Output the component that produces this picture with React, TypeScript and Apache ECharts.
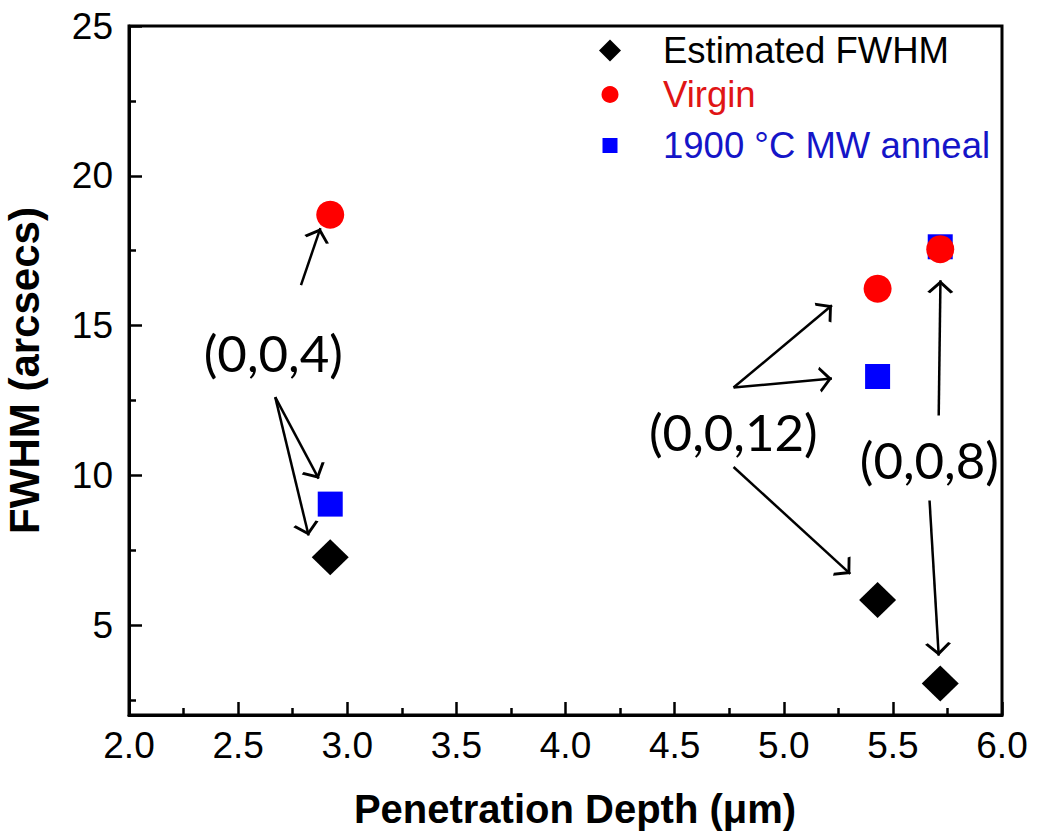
import React, { useEffect, useRef } from "react";
import * as echarts from "echarts";

// ---- data ----
const seriesNames = ["Estimated FWHM", "Virgin", "1900 °C MW anneal"];
const depth = [2.922, 5.43, 5.717];
const estimatedFWHM = [7.27, 5.84, 3.05];
const virginFWHM = [18.7, 16.23, 17.55];
const annealFWHM = [9.04, 13.3, 17.63];

const xTickLabels = ["2.0", "2.5", "3.0", "3.5", "4.0", "4.5", "5.0", "5.5", "6.0"];
const yMajorTicks = [5, 10, 15, 20, 25];
const yMinorTicks = [2.5, 7.5, 12.5, 17.5, 22.5];

const annotationLabels = ["(0,0,4)", "(0,0,12)", "(0,0,8)"];
const annotationPos = [
  [2.661, 14.11],
  [4.769, 11.47],
  [5.667, 10.53],
];
const arrowCoords = [
  [[2.788, 16.35], [2.877, 18.25]],
  [[2.67, 12.61], [2.869, 9.89]],
  [[2.67, 12.61], [2.823, 7.99]],
  [[4.77, 12.93], [5.221, 15.68]],
  [[4.77, 12.93], [5.221, 13.23]],
  [[4.77, 10.28], [5.305, 6.71]],
  [[5.71, 12.0], [5.718, 16.51]],
  [[5.668, 9.16], [5.71, 3.98]],
];

const ARIAL = "'Liberation Sans', Arial, Helvetica, sans-serif";
const chevron =
  "path://M0,-14 M0,0 L8,12.5 L6.3,14 L0,4.2 L-6.3,14 L-8,12.5 Z";

export default function App() {
  const ref = useRef<HTMLDivElement>(null);

  useEffect(() => {
    document.body.style.margin = "0";
    if (!ref.current) return;
    const chart = echarts.init(ref.current, undefined, { renderer: "svg" });

    const zip = (ys: number[]) => depth.map((x, i) => [x, ys[i]]);

    const legendBase = {
      orient: "vertical" as const,
      padding: 0,
      selectedMode: false,
      itemGap: 0,
    };

    chart.setOption({
      animation: false,
      backgroundColor: "#ffffff",
      grid: {
        left: 129,
        right: 35,
        top: 26,
        bottom: 120,
        show: true,
        borderColor: "#000",
        borderWidth: 3,
        containLabel: false,
        outerBoundsMode: "none",
      },
      legend: [
        {
          ...legendBase,
          data: [seriesNames[0]],
          left: 599,
          top: 50 - 18,
          itemWidth: 22,
          itemHeight: 22,
          textStyle: { fontFamily: ARIAL, fontSize: 36.5, color: "#000", padding: [0, 0, 0, 37] },
        },
        {
          ...legendBase,
          data: [seriesNames[1]],
          left: 601.5,
          top: 94 - 18,
          itemWidth: 17,
          itemHeight: 17,
          textStyle: { fontFamily: ARIAL, fontSize: 36.5, color: "#e01515", padding: [0, 0, 0, 39.5] },
        },
        {
          ...legendBase,
          data: [seriesNames[2]],
          left: 602.5,
          top: 145 - 18,
          itemWidth: 15,
          itemHeight: 15,
          textStyle: { fontFamily: ARIAL, fontSize: 36.5, color: "#1515c8", padding: [0, 0, 0, 40.5] },
        },
      ],
      xAxis: {
        type: "value",
        min: 2,
        max: 6,
        interval: 0.5,
        name: "Penetration Depth (μm)",
        nameLocation: "middle",
        nameGap: 74,
        nameTextStyle: { fontFamily: ARIAL, fontSize: 40, fontWeight: "bold", color: "#000", padding: [0, 0, 0, 19] },
        axisLine: { show: true, lineStyle: { color: "#000", width: 3 } },
        axisTick: { show: true, inside: true, length: 13, lineStyle: { color: "#000", width: 2.5 } },
        minorTick: { show: true, splitNumber: 2, length: 7, lineStyle: { color: "#000", width: 2.5 } },
        splitLine: { show: false },
        axisLabel: {
          fontFamily: ARIAL,
          fontSize: 37,
          color: "#000",
          margin: 12,
          formatter: (v: number) => xTickLabels[Math.round((v - 2) / 0.5)] ?? v.toFixed(1),
        },
      },
      yAxis: [
        {
          type: "value",
          min: 2,
          max: 25,
          position: "left",
          name: "FWHM (arcsecs)",
          nameLocation: "middle",
          nameGap: 84,
          nameTextStyle: { fontFamily: ARIAL, fontSize: 42, fontWeight: "bold", color: "#000" },
          axisLine: { show: true, lineStyle: { color: "#000", width: 3 } },
          axisTick: {
            show: true,
            inside: true,
            length: 13,
            customValues: yMajorTicks,
            lineStyle: { color: "#000", width: 2.5 },
          },
          axisLabel: {
            fontFamily: ARIAL,
            fontSize: 37,
            color: "#000",
            margin: 16,
            customValues: yMajorTicks,
          },
          splitLine: { show: false },
        },
        {
          type: "value",
          min: 2,
          max: 25,
          position: "left",
          offset: 0,
          axisLine: { show: false },
          axisTick: {
            show: true,
            inside: true,
            length: 7,
            customValues: yMinorTicks,
            lineStyle: { color: "#000", width: 2.5 },
          },
          axisLabel: { show: false },
          splitLine: { show: false },
        },
      ],
      series: [
        {
          name: seriesNames[0],
          type: "scatter",
          symbol: "diamond",
          symbolSize: [37, 36],
          itemStyle: { color: "#000", opacity: 1 },
          data: zip(estimatedFWHM),
          z: 3,
        },
        {
          name: seriesNames[2],
          type: "scatter",
          symbol: "rect",
          symbolSize: 25,
          itemStyle: { color: "#0000ff", opacity: 1 },
          data: zip(annealFWHM),
          z: 3,
        },
        {
          name: seriesNames[1],
          type: "scatter",
          symbol: "circle",
          symbolSize: 28,
          itemStyle: { color: "#ff0000", opacity: 1 },
          data: zip(virginFWHM),
          z: 4,
        },
        {
          name: "arrows",
          type: "lines",
          coordinateSystem: "cartesian2d",
          silent: true,
          symbol: ["none", chevron],
          symbolSize: [15, 26],
          lineStyle: { color: "#000", width: 2.5, opacity: 1, curveness: 0 },
          data: arrowCoords.map((c) => ({ coords: c })),
          z: 5,
        },
        {
          name: "annotations",
          type: "scatter",
          silent: true,
          symbol: "circle",
          symbolSize: 1,
          itemStyle: { color: "rgba(0,0,0,0)", opacity: 1 },
          label: {
            show: true,
            position: "inside",
            fontFamily: "Lato, 'Open Sans', sans-serif",
            fontSize: 51,
            color: "#000",
            opacity: 1,
            formatter: (p: any) => annotationLabels[p.dataIndex],
          },
          data: annotationPos,
          z: 6,
        },
      ],
    });

    return () => chart.dispose();
  }, []);

  return <div ref={ref} style={{ width: 1037, height: 835 }} />;
}
